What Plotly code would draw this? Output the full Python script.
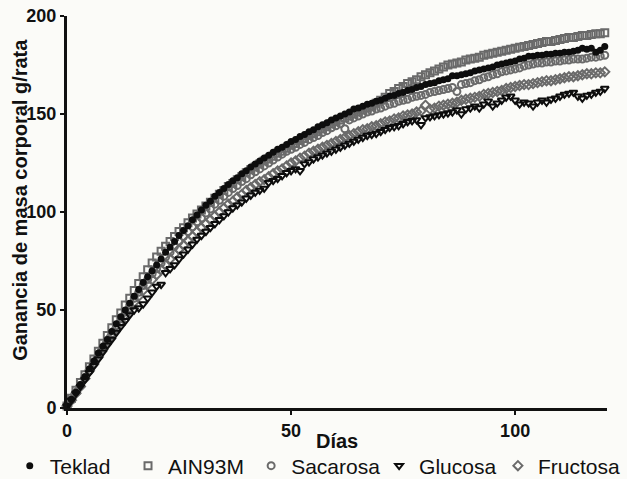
import plotly.graph_objects as go

# Days of the study (daily weighing)
dias = list(range(0, 121))

# Body-mass gain (g/rat) per diet group
teklad = [
    1, 4.5, 8, 12, 16, 20,
    24, 28, 31.5, 35, 39,
    43, 46.5, 50, 53.5, 57,
    60.5, 64, 67, 70, 73,
    76, 79.5, 82, 85, 88,
    90.5, 93, 96, 98.5, 101,
    103.5, 105.5, 108, 110, 112,
    114, 116, 117.5, 119.5, 121,
    123, 124.5, 126, 127.5, 129,
    130.5, 132, 133, 134.5, 136,
    137, 138.5, 139.5, 141, 142,
    143.5, 144.5, 145.5, 147, 148,
    149, 150, 151, 152.5, 153,
    154, 155, 155.5, 156.5, 157,
    158, 159, 159.5, 160.5, 161,
    162, 162.5, 163.5, 164, 165,
    165.5, 166, 167, 167.5, 168,
    169.5, 169.5, 170, 170.5, 171,
    172, 172.5, 173, 173.5, 174,
    175, 175.5, 176, 176.5, 177,
    178, 178.5, 179.5, 179.5, 180,
    180, 180.5, 180.5, 181, 181,
    181.5, 181.5, 182, 182.5, 183.5,
    183, 183.5, 181.5, 182.5, 184.5,
]
ain93m = [
    1, 5, 9, 13, 17, 21,
    25, 29, 33, 37, 41,
    45, 48.5, 52.5, 56, 60,
    63.5, 67, 70.5, 74, 77,
    80, 82.5, 85, 87.5, 90,
    92, 94.5, 97, 99, 101,
    103, 105, 107, 109, 111,
    113, 114.5, 116.5, 118, 120,
    121.5, 123, 124.5, 126, 127,
    128.5, 130, 131, 132.5, 134,
    135, 136.5, 137.5, 139, 140,
    141, 142.5, 143.5, 145, 146,
    147, 148, 149, 150, 151,
    152, 153, 154, 155.5, 157,
    158.5, 160.5, 161.5, 163, 164,
    165.5, 166.5, 167.5, 169, 170,
    171, 172, 173, 174, 175,
    175.5, 176, 176.5, 177.5, 178,
    178.5, 179, 180, 180.5, 181,
    181.5, 182, 182.5, 183, 183.5,
    184, 184.5, 185, 185.5, 186,
    186.5, 187, 187, 187.5, 188,
    188.5, 189, 189, 189.5, 190,
    190, 190.5, 191, 191, 191.5,
]
sacarosa = [
    1, 4, 8, 11.5, 15.5, 19,
    23, 27, 30.5, 34.5, 38,
    42, 45.5, 49, 52.5, 56,
    59, 62.5, 65.5, 68.5, 71,
    74, 77, 79.5, 82.5, 85,
    87.5, 90, 92.5, 95, 97,
    99.5, 101.5, 104, 106, 108,
    110, 112, 113.5, 115.5, 117,
    119, 120.5, 122, 123.5, 125,
    126.5, 128, 129.5, 131, 132,
    133, 134.5, 135.5, 137, 138,
    139, 140.5, 141.5, 143, 144,
    145, 142.5, 147, 148, 149,
    150, 151, 151.5, 152.5, 153,
    154, 155, 155.5, 156.5, 157,
    157.5, 158.5, 159, 159.5, 160,
    161, 161.5, 162, 162.5, 163,
    163.5, 161.5, 165, 165.5, 166,
    167, 167.5, 168.5, 169, 170,
    170.5, 171.5, 172, 172.5, 173,
    173.5, 174.5, 175, 175.5, 176,
    176, 176.5, 176.5, 177, 177,
    177.5, 177.5, 178, 178, 178,
    178.5, 179, 179, 179.5, 180,
]
glucosa = [
    1, 4, 7.5, 11, 14.5, 18,
    21.5, 25, 28.5, 32, 35,
    38.5, 41.5, 44.5, 47.5, 50,
    51, 53, 56, 59, 62,
    63, 69, 71, 73, 76,
    78.5, 81, 83.5, 86, 88,
    90, 92, 94, 96, 98,
    100, 102, 103.5, 105, 107,
    108.5, 110, 111, 112, 115,
    116, 117, 118.5, 120, 121,
    122, 121, 124.5, 125.5, 127,
    128, 129, 130, 131, 132,
    133, 134, 135, 136, 137,
    138, 139, 139.5, 140, 141,
    142, 143, 143.5, 144, 145,
    146, 146.5, 147, 144.5, 148,
    148.5, 149, 149.5, 150, 150.5,
    151, 152, 150, 152.5, 153,
    154, 153, 155, 156.5, 154,
    155.5, 157, 158.5, 159, 157,
    155, 156, 155.5, 154, 156,
    157, 156, 157.5, 158, 159,
    160, 160.5, 161, 159, 158,
    159.5, 160, 161, 161.5, 163,
]
fructosa = [
    1, 4, 7.5, 11, 15, 19,
    22.5, 26, 30, 33.5, 37,
    40.5, 44, 47.5, 51, 54,
    57, 60, 63, 65.5, 68,
    70.5, 73, 76, 78.5, 81,
    83, 85.5, 87.5, 90, 92,
    94, 96, 98, 100, 102,
    104, 105.5, 107.5, 109, 111,
    112.5, 114, 115.5, 116.5, 118,
    119.5, 121, 122, 123.5, 125,
    126, 127.5, 128.5, 130, 131,
    132, 133, 134, 135, 136,
    137, 138, 139, 140, 141,
    142, 142.5, 143.5, 144, 145,
    146, 146.5, 147.5, 148, 149,
    149.5, 150, 151, 151.5, 154.5,
    152.5, 153, 154, 154.5, 155,
    155.5, 156, 157, 157.5, 158,
    158.5, 159, 160, 160.5, 161,
    161.5, 162, 163, 163.5, 164,
    164.5, 165, 165, 165.5, 166,
    166.5, 167, 167, 167.5, 168,
    168.5, 169, 169, 169.5, 170,
    170.5, 170.5, 171, 171, 171.5,
]

GRAY = "#6a6a6a"
BLACK = "#0d0d0d"

# (name, values, symbol, colour, filled, legend slot); drawn in list order
series = [
    ("AIN93M", ain93m, "square-open", GRAY, False, 2),
    ("Sacarosa", sacarosa, "circle-open", GRAY, False, 3),
    ("Fructosa", fructosa, "diamond-open", GRAY, False, 5),
    ("Teklad", teklad, "circle", BLACK, True, 1),
    ("Glucosa", glucosa, "triangle-down-open", BLACK, False, 4),
]

fig = go.Figure()
for name, vals, sym, col, filled, slot in series:
    fig.add_trace(go.Scatter(
        x=dias, y=vals, mode="markers", name=name,
        legend="legend" if slot == 1 else f"legend{slot}",
        cliponaxis=False,
        marker=dict(symbol=sym, size=7, color=col,
                    line=dict(width=0 if filled else 2, color=col)),
    ))

font_family = "Liberation Sans, Arial, sans-serif"
tick_font = dict(family=font_family, size=18, color="#111", weight="bold")
title_font = dict(family=font_family, size=20, color="#111", weight="bold")

axis_common = dict(showgrid=False, zeroline=False, showline=True,
                   linecolor="#111", linewidth=3, ticks="outside", ticklen=4,
                   tickwidth=2, tickcolor="#111", tickfont=tick_font)

# One single-entry legend per series, laid out in a row under the axis
legend_x = [-0.106, 0.113, 0.341, 0.578, 0.798]
legends = {}
for i, lx in enumerate(legend_x, start=1):
    key = "legend" if i == 1 else f"legend{i}"
    legends[key] = dict(orientation="h", x=lx, xanchor="left", y=-0.148,
                        yanchor="middle",
                        font=dict(size=21, family=font_family, color="#111"),
                        itemsizing="trace", itemwidth=30,
                        bgcolor="rgba(0,0,0,0)")

fig.update_layout(
    width=627, height=479,
    margin=dict(l=67, r=20, t=16, b=71, autoexpand=False),
    paper_bgcolor="#fbfbf8", plot_bgcolor="#fbfbf8",
    font=dict(family=font_family, color="#111"),
    showlegend=True,
    xaxis=dict(range=[0, 120.5], tickvals=[0, 50, 100], **axis_common),
    yaxis=dict(range=[0, 200], tickvals=[0, 50, 100, 150, 200], **axis_common),
    annotations=[
        dict(text="Días", xref="paper", yref="paper", x=0.5, y=-0.084,
             xanchor="center", yanchor="middle", showarrow=False,
             font=title_font),
        dict(text="Ganancia de masa corporal g/rata", xref="paper",
             yref="paper", x=-0.087, y=0.531, xanchor="center",
             yanchor="middle", textangle=-90, showarrow=False,
             font=title_font),
    ],
    **legends,
)

fig.write_html("out.html")
